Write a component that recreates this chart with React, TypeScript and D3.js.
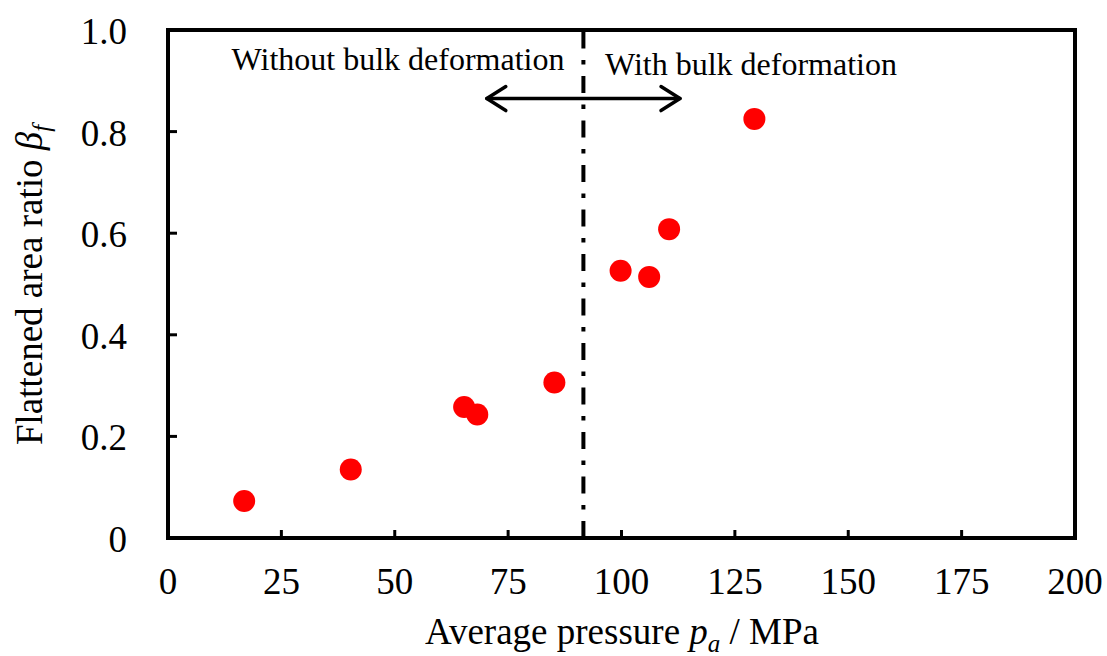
import React from "react";
import * as d3 from "d3";

// Average pressure p_a (MPa) and flattened area ratio β_f for each specimen
const pressure = [16.8, 40.3, 65.3, 68.2, 85.2, 99.8, 106.1, 110.5, 129.3];
const areaRatio = [0.073, 0.135, 0.258, 0.243, 0.306, 0.526, 0.514, 0.608, 0.825];

const xTicks = [0, 25, 50, 75, 100, 125, 150, 175, 200];
const yTicks = [0, 0.2, 0.4, 0.6, 0.8, 1.0];
const yTickLabels = ["0", "0.2", "0.4", "0.6", "0.8", "1.0"];

// Regime boundary and the double arrow spanning it
const boundary = 91.6;
const arrowSpan = [70.3, 112.9];
const arrowLevel = 0.865;

const W = 1107;
const H = 656;
const left = 168;
const right = 1075;
const top = 30;
const bottom = 538;
const FONT = "'Liberation Serif', 'Times New Roman', serif";

export default function App() {
  const x = d3.scaleLinear().domain([0, 200]).range([left, right]);
  const y = d3.scaleLinear().domain([0, 1]).range([bottom, top]);
  const ay = y(arrowLevel);
  const ax0 = x(arrowSpan[0]);
  const ax1 = x(arrowSpan[1]);
  const headDx = 19;
  const headDy = 12;

  return (
    <svg
      width={W}
      height={H}
      style={{ position: "absolute", left: 0, top: 0, background: "#fff" }}
      fontFamily={FONT}
    >
      {/* ticks inside the frame */}
      {xTicks.slice(1, -1).map((t) => (
        <line key={"xt" + t} x1={x(t)} x2={x(t)} y1={bottom} y2={bottom - 8} stroke="#000" strokeWidth={3} />
      ))}
      {yTicks.slice(1, -1).map((t) => (
        <line key={"yt" + t} x1={left} x2={left + 9} y1={y(t)} y2={y(t)} stroke="#000" strokeWidth={3} />
      ))}

      {/* regime boundary */}
      <line
        x1={x(boundary)}
        x2={x(boundary)}
        y1={bottom}
        y2={top}
        stroke="#000"
        strokeWidth={4}
        strokeDasharray="17,11.5,4.5,11.5"
      />

      {/* double arrow */}
      <g stroke="#000" strokeWidth={3.5} fill="none" strokeLinecap="round" strokeLinejoin="round">
        <line x1={ax0} x2={ax1} y1={ay} y2={ay} />
        <polyline points={`${ax0 + headDx},${ay - headDy} ${ax0},${ay} ${ax0 + headDx},${ay + headDy}`} />
        <polyline points={`${ax1 - headDx},${ay - headDy} ${ax1},${ay} ${ax1 - headDx},${ay + headDy}`} />
      </g>

      <text x={398} y={70} fontSize={32} textAnchor="middle" fill="#000">
        Without bulk deformation
      </text>
      <text x={751} y={75} fontSize={32} textAnchor="middle" fill="#000">
        With bulk deformation
      </text>

      {/* data points */}
      {pressure.map((p, i) => (
        <circle key={i} cx={x(p)} cy={y(areaRatio[i])} r={11} fill="#ff0000" />
      ))}

      {/* frame */}
      <rect x={left} y={top} width={right - left} height={bottom - top} fill="none" stroke="#000" strokeWidth={4} />

      {/* tick labels */}
      {xTicks.map((t) => (
        <text key={"xl" + t} x={x(t)} y={594} fontSize={37} textAnchor="middle" fill="#000">
          {t}
        </text>
      ))}
      {yTicks.map((t, i) => (
        <text key={"yl" + t} x={127} y={y(t) + 14} fontSize={37} textAnchor="end" fill="#000">
          {yTickLabels[i]}
        </text>
      ))}

      {/* axis titles */}
      <text x={622} y={644} fontSize={37} textAnchor="middle" fill="#000">
        Average pressure{" "}
        <tspan fontStyle="italic">p</tspan>
        <tspan fontStyle="italic" fontSize={25} dy={8}>a</tspan>
        <tspan dy={-8}> / MPa</tspan>
      </text>
      <text
        transform={`translate(42, 285) rotate(-90)`}
        fontSize={37}
        textAnchor="middle"
        fill="#000"
      >
        Flattened area ratio{" "}
        <tspan fontStyle="italic">β</tspan>
        <tspan fontStyle="italic" fontSize={25} dy={8}>f</tspan>
      </text>
    </svg>
  );
}
